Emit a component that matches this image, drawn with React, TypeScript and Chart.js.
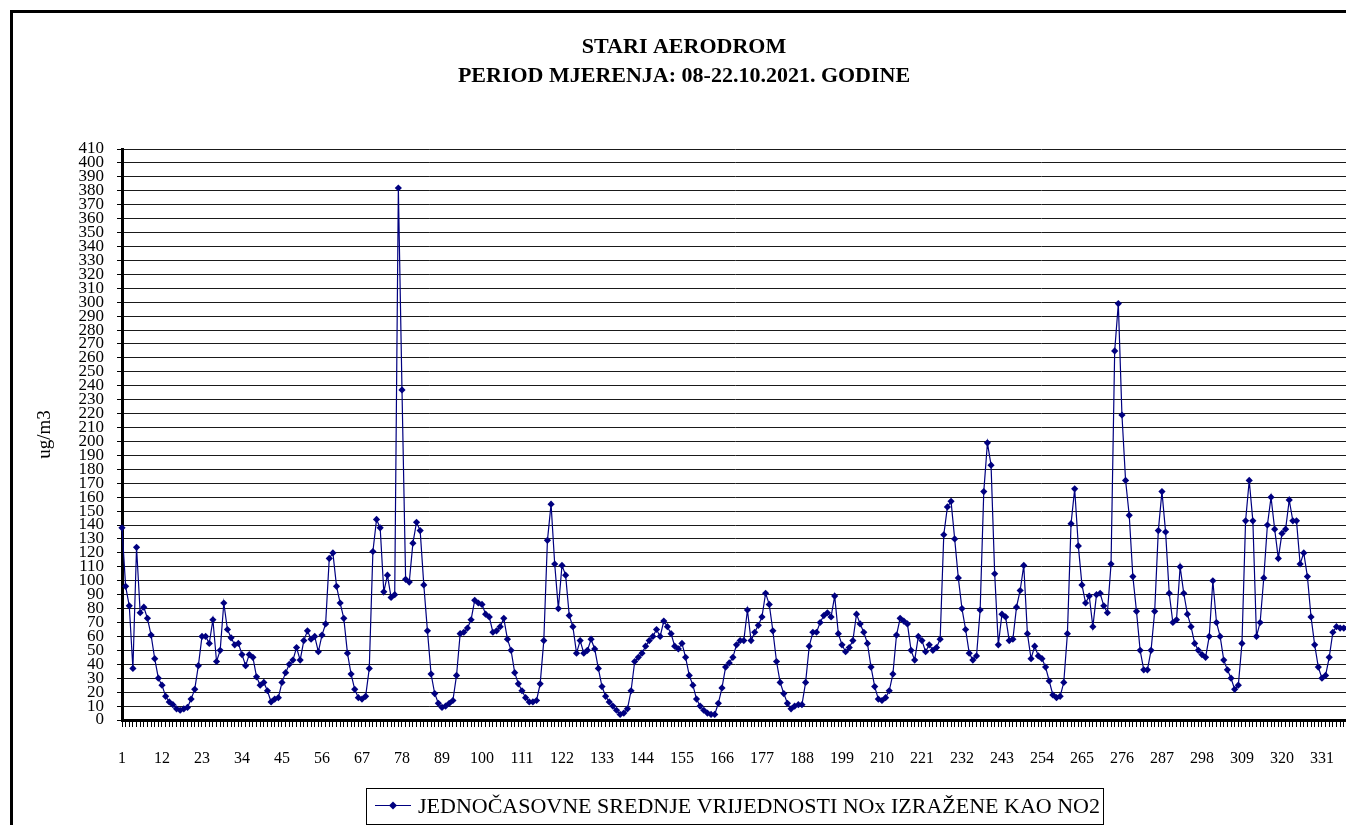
import React, { useEffect, useRef } from 'react';
import { Chart, registerables } from 'chart.js';

Chart.register(...registerables);

const TITLE_LINES = ['STARI AERODROM', 'PERIOD MJERENJA: 08-22.10.2021. GODINE'];
const SERIES_LABEL = 'JEDNOČASOVNE SREDNJE VRIJEDNOSTI NOx IZRAŽENE KAO NO2';
const Y_TITLE = 'ug/m3';

// hourly mean NOx values (ug/m3), hour 1 .. 338 as visible in the reference
const NOX_VALUES = [
  138, 96, 82, 37, 124, 77, 81, 73, 61, 44,
  30, 25, 17, 13, 11, 8, 7, 8, 9, 15,
  22, 39, 60, 60, 55, 72, 42, 50, 84, 65,
  59, 54, 55, 47, 39, 47, 45, 31, 25, 27,
  21, 13, 15, 16, 27, 34, 40, 43, 52, 43,
  57, 64, 58, 60, 49, 61, 69, 116, 120, 96,
  84, 73, 48, 33, 22, 16, 15, 17, 37, 121,
  144, 138, 92, 104, 88, 90, 382, 237, 101, 99,
  127, 142, 136, 97, 64, 33, 19, 12, 9, 10,
  12, 14, 32, 62, 63, 66, 72, 86, 84, 83,
  76, 74, 63, 64, 67, 73, 58, 50, 34, 26,
  21, 16, 13, 13, 14, 26, 57, 129, 155, 112,
  80, 111, 104, 75, 67, 48, 57, 48, 50, 58,
  51, 37, 24, 17, 13, 10, 7, 4, 5, 8,
  21, 42, 45, 48, 53, 57, 60, 65, 60, 71,
  67, 62, 53, 51, 55, 45, 32, 25, 15, 10,
  7, 5, 4, 4, 12, 23, 38, 41, 45, 54,
  57, 57, 79, 57, 63, 68, 74, 91, 83, 64,
  42, 27, 19, 12, 8, 10, 11, 11, 27, 53,
  63, 63, 70, 75, 77, 74, 89, 62, 54, 49,
  52, 57, 76, 69, 63, 55, 38, 24, 15, 14,
  16, 21, 33, 61, 73, 71, 69, 50, 43, 60,
  57, 49, 54, 50, 52, 58, 133, 153, 157, 130,
  102, 80, 65, 48, 43, 46, 79, 164, 199, 183,
  105, 54, 76, 74, 57, 58, 81, 93, 111, 62,
  44, 53, 46, 44, 38, 28, 18, 16, 17, 27,
  62, 141, 166, 125, 97, 84, 89, 67, 90, 91,
  82, 77, 112, 265, 299, 219, 172, 147, 103, 78,
  50, 36, 36, 50, 78, 136, 164, 135, 91, 70,
  72, 110, 91, 76, 67, 55, 50, 47, 45, 60,
  100, 70, 60, 43, 36, 30, 22, 25, 55, 143,
  172, 143, 60, 70, 102, 140, 160, 137, 116, 134,
  137, 158, 143, 143, 112, 120, 103, 74, 54, 38,
  30, 32, 45, 63, 67, 66, 66, 66,
];

// category labels: hour index
const HOURS = NOX_VALUES.map((_, i) => String(i + 1));
// every 11th hour carries a tick label
const LABEL_STEP = 11;
const Y_MIN = 0;
const Y_MAX = 410;
const Y_STEP = 10;

const SERIF = '"Liberation Serif", "Times New Roman", serif';
const NAVY = '#000080';

const CANVAS_W = 1342;
const CANVAS_H = 820;

const legendBoxPlugin = {
  id: 'legendBox',
  afterDraw(chart: any) {
    const ctx = chart.ctx as CanvasRenderingContext2D;
    ctx.save();
    ctx.strokeStyle = '#000';
    ctx.lineWidth = 1;
    ctx.strokeRect(353.5, 775.5, 737, 36);
    ctx.strokeStyle = NAVY;
    ctx.lineWidth = 1.2;
    ctx.beginPath();
    ctx.moveTo(362, 792.5);
    ctx.lineTo(398, 792.5);
    ctx.stroke();
    ctx.fillStyle = NAVY;
    ctx.beginPath();
    ctx.moveTo(380, 788.5);
    ctx.lineTo(384, 792.5);
    ctx.lineTo(380, 796.5);
    ctx.lineTo(376, 792.5);
    ctx.closePath();
    ctx.fill();
    ctx.fillStyle = '#000';
    ctx.font = '22px ' + SERIF;
    ctx.textBaseline = 'middle';
    ctx.textAlign = 'left';
    ctx.fillText(SERIES_LABEL, 405, 794);
    ctx.restore();
  },
};

export default function App() {
  const canvasRef = useRef<HTMLCanvasElement | null>(null);

  useEffect(() => {
    const canvas = canvasRef.current;
    if (!canvas) return;
    const chart = new Chart(canvas, {
      type: 'line',
      data: {
        labels: HOURS,
        datasets: [
          {
            label: SERIES_LABEL,
            data: NOX_VALUES,
            borderColor: NAVY,
            backgroundColor: NAVY,
            borderWidth: 1.2,
            pointStyle: 'rectRot',
            pointRadius: 3.6,
            pointHoverRadius: 3.6,
            pointBackgroundColor: NAVY,
            pointBorderColor: NAVY,
            pointBorderWidth: 0,
            tension: 0,
            clip: false as any,
          },
        ],
      },
      options: {
        responsive: false,
        animation: false,
        devicePixelRatio: 1,
        layout: { padding: { left: 0, right: 0, top: 0, bottom: 0 }, autoPadding: false },
        plugins: {
          legend: { display: false },
          tooltip: { enabled: false },
          title: {
            display: true,
            text: TITLE_LINES,
            color: '#000',
            font: { family: SERIF, size: 22, weight: 'bold', lineHeight: 29 / 22 },
            padding: { top: 19.5, bottom: 58.5 },
          },
        },
        scales: {
          x: {
            type: 'category',
            offset: false,
            border: { display: true, color: '#000', width: 3 },
            grid: {
              display: true,
              drawOnChartArea: false,
              drawTicks: true,
              tickLength: 7,
              tickColor: '#000',
              tickWidth: 1,
            },
            ticks: {
              autoSkip: false,
              maxRotation: 0,
              minRotation: 0,
              padding: 22,
              color: '#000',
              font: { family: SERIF, size: 16 },
              callback: (_v: any, index: number) => (index % LABEL_STEP === 0 ? HOURS[index] : ''),
            },
            afterFit: (scale: any) => {
              scale.height = CANVAS_H - 707;
              scale.paddingLeft = 0;
              scale.paddingRight = 7.6;
            },
          },
          y: {
            min: Y_MIN,
            max: Y_MAX,
            border: { display: true, color: '#000', width: 3 },
            grid: {
              color: '#1a1a1a',
              lineWidth: 1,
              drawTicks: true,
              tickLength: 5,
              tickColor: '#000',
            },
            ticks: {
              stepSize: Y_STEP,
              autoSkip: false,
              padding: 13,
              color: '#000',
              font: { family: SERIF, size: 17 },
            },
            title: {
              display: true,
              text: Y_TITLE,
              color: '#000',
              font: { family: SERIF, size: 19 },
              padding: { top: 21, bottom: 0 },
            },
            afterFit: (scale: any) => {
              scale.width = 109;
            },
          },
        },
      },
      plugins: [legendBoxPlugin],
    });
    return () => chart.destroy();
  }, []);

  return (
    <div
      style={{
        position: 'fixed',
        left: 0,
        top: 0,
        width: 1346,
        height: 825,
        overflow: 'hidden',
        background: '#fff',
      }}
    >
      <div
        style={{
          position: 'absolute',
          left: 10,
          top: 10,
          width: CANVAS_W,
          height: CANVAS_H,
          border: '3px solid #000',
          background: '#fff',
        }}
      >
        <canvas
          ref={canvasRef}
          width={CANVAS_W}
          height={CANVAS_H}
          style={{ display: 'block', width: CANVAS_W, height: CANVAS_H }}
        />
      </div>
    </div>
  );
}
